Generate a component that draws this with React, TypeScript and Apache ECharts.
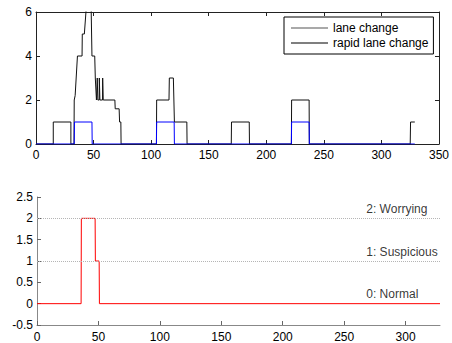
import React, { useEffect, useRef } from "react";
import * as echarts from "echarts";

// Top panel: lane change indicator (black step curve)
const laneChangeX = [0, 15, 15, 30.3, 30.3, 33, 33.2, 34, 36, 40, 40.2, 42, 44.5, 47.7, 48.6, 51, 51.5, 52.5, 53.1, 53.2, 53.6, 53.7, 54.9, 55, 55.4, 55.5, 57.8, 57.9, 58.3, 58.4, 68.5, 68.8, 72.2, 72.6, 73.7, 73.9, 104.6, 104.8, 115.5, 115.8, 119.3, 120.2, 131, 131.2, 169.6, 169.8, 185.2, 185.4, 221.8, 222, 237.2, 237.4, 325, 325.3, 329];
const laneChangeY = [0, 0, 1, 1, 0, 0, 2, 2.2, 4, 4, 5, 5, 6.8, 6.8, 4, 4, 3, 2, 2, 3, 3, 2, 2, 3, 3, 2, 2, 3, 3, 2, 2, 1.6, 1.6, 1, 1, 0, 0, 2, 2, 3, 3, 1, 1, 0, 0, 1, 1, 0, 0, 2, 2, 0, 0, 1, 1];

// Top panel: rapid lane change indicator (blue)
const rapidX = [0, 33.2, 33.4, 48.6, 48.8, 104.6, 104.8, 120, 120.2, 221.8, 222, 237.2, 237.4, 329];
const rapidY = [0, 0, 1, 1, 0, 0, 1, 1, 0, 0, 1, 1, 0, 0];

// Bottom panel: alert level (red)
const alertX = [0, 35.9, 36.1, 47.3, 47.5, 50.6, 50.8, 328];
const alertY = [0, 0, 2, 2, 1, 1, 0, 0];

const levelValues = [2, 1, 0];
const levelLabels = ["2: Worrying", "1: Suspicious", "0: Normal"];
const levelLabelX = 268;

const bottomXTicks = [0, 50, 100, 150, 200, 250, 300];
const legendNames = ["lane change", "rapid lane change"];

const zip = (xs: number[], ys: number[]) => xs.map((x, i) => [x, ys[i]]);

const FONT = "Liberation Sans, Arial, sans-serif";

export default function App() {
  const ref = useRef<HTMLDivElement>(null);
  useEffect(() => {
    if (!ref.current) return;
    const chart = echarts.init(ref.current, null, { renderer: "svg" });
    const txt = { color: "#000", fontSize: 12, fontFamily: FONT };
    const boxLine = { show: true, onZero: false, lineStyle: { color: "#222", width: 1 } };
    const lowLine = { show: true, onZero: false, lineStyle: { color: "#888", width: 1 } };
    const tickIn = (color: string) => ({ show: true, inside: true, length: 4, lineStyle: { color } });
    chart.setOption({
      animation: false,
      textStyle: { fontFamily: FONT },
      grid: [
        { left: 36, top: 12, width: 404, height: 132 },
        { left: 37, top: 197, width: 403, height: 132 },
      ],
      legend: {
        left: 284,
        top: 17,
        orient: "vertical",
        padding: [4, 5, 4, 7],
        borderColor: "#000",
        borderWidth: 1,
        backgroundColor: "#fff",
        icon: "rect",
        itemWidth: 37,
        itemHeight: 1,
        itemGap: 1,
        textStyle: { ...txt, lineHeight: 14 },
        data: [
          { name: legendNames[0], itemStyle: { color: "#555" } },
          { name: legendNames[1], itemStyle: { color: "#000" } },
        ],
      },
      xAxis: [
        {
          gridIndex: 0, type: "value", min: 0, max: 350, interval: 50, position: "bottom",
          axisLine: boxLine, axisTick: tickIn("#222"), splitLine: { show: false },
          axisLabel: { ...txt, margin: 5 },
        },
        {
          gridIndex: 0, type: "value", min: 0, max: 350, interval: 50, position: "top",
          axisLine: boxLine, axisTick: tickIn("#222"), splitLine: { show: false },
          axisLabel: { show: false },
        },
        {
          gridIndex: 1, type: "value", min: 0, max: 328, interval: 50, position: "bottom",
          axisLine: lowLine,
          axisTick: { ...tickIn("#666"), customValues: bottomXTicks },
          splitLine: { show: false },
          axisLabel: { ...txt, margin: 6, customValues: bottomXTicks },
        },
      ],
      yAxis: [
        {
          gridIndex: 0, type: "value", min: 0, max: 6, interval: 2, position: "left",
          axisLine: boxLine, axisTick: tickIn("#222"), splitLine: { show: false },
          axisLabel: { ...txt, margin: 4 },
        },
        {
          gridIndex: 0, type: "value", min: 0, max: 6, interval: 2, position: "right",
          axisLine: boxLine, axisTick: tickIn("#222"), splitLine: { show: false },
          axisLabel: { show: false },
        },
        {
          gridIndex: 1, type: "value", min: -0.5, max: 2.5, interval: 0.5, position: "left",
          axisLine: lowLine, axisTick: tickIn("#666"), splitLine: { show: false },
          axisLabel: { ...txt, margin: 4 },
        },
      ],
      series: [
        {
          name: legendNames[0], type: "line", xAxisIndex: 0, yAxisIndex: 0,
          data: zip(laneChangeX, laneChangeY), symbol: "none", clip: true,
          lineStyle: { color: "#111", width: 1 }, itemStyle: { color: "#111" },
        },
        {
          name: legendNames[1], type: "line", xAxisIndex: 0, yAxisIndex: 0,
          data: zip(rapidX, rapidY), symbol: "none", clip: true,
          lineStyle: { color: "#0000ff", width: 1 }, itemStyle: { color: "#0000ff" },
        },
        {
          name: "alert", type: "line", xAxisIndex: 2, yAxisIndex: 2,
          data: zip(alertX, alertY), symbol: "none", clip: true,
          lineStyle: { color: "#ff0000", width: 1 }, itemStyle: { color: "#ff0000" },
          markLine: {
            silent: true, symbol: ["none", "none"], label: { show: false },
            lineStyle: { type: "dotted", color: "#b5b5b5", width: 1 },
            data: levelValues.filter((v) => v > 0).map((v) => ({ yAxis: v })),
          },
        },
        {
          name: "levels", type: "scatter", xAxisIndex: 2, yAxisIndex: 2,
          data: levelValues.map((v) => [levelLabelX, v]), symbolSize: 0, silent: true,
          label: {
            show: true, position: "right", distance: 0, offset: [0, -9.5],
            ...txt, formatter: (p: any) => levelLabels[p.dataIndex],
          },
        },
      ],
    });
    return () => chart.dispose();
  }, []);
  return (
    <div
      ref={ref}
      style={{ position: "fixed", left: 0, top: 0, width: 452, height: 343, background: "#fff" }}
    />
  );
}
